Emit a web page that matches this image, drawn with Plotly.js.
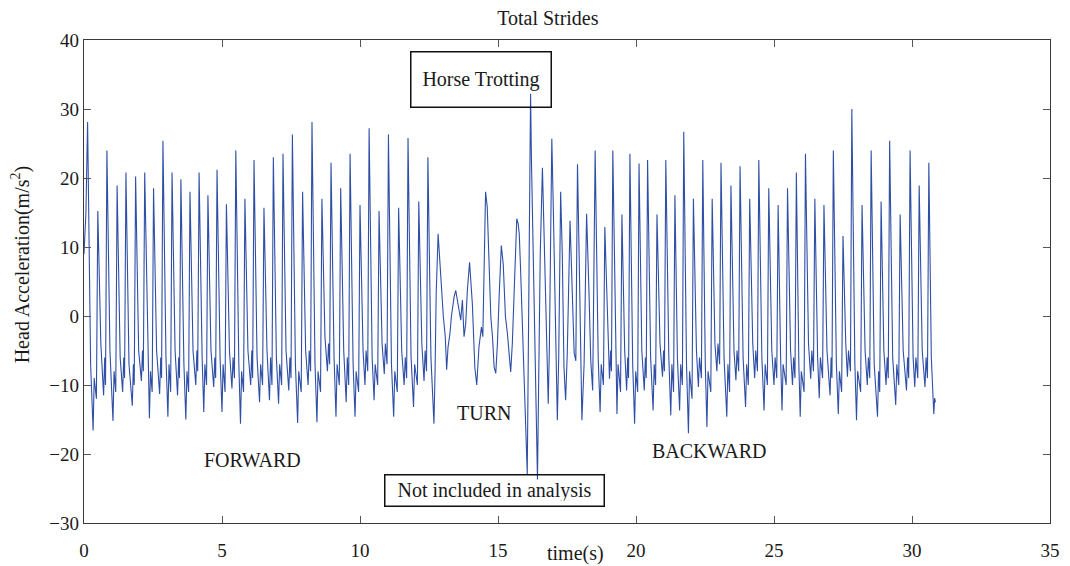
<!DOCTYPE html>
<html>
<head>
<meta charset="utf-8">
<script src="https://cdn.plot.ly/plotly-3.0.1.min.js"></script>
<style>
  html, body { margin: 0; padding: 0; background: #fff; }
  #chart { width: 1070px; height: 566px; }
</style>
</head>
<body>
<div id="chart"></div>
<script>
// Head acceleration during trotting: forward run, turn, backward run.
// Each stride is listed as peak, fall, trough, rebound, take-off.

const timeForward = [
  0.00, 0.07,
  0.13, 0.24, 0.33, 0.37, 0.45,   0.50, 0.61, 0.71, 0.75, 0.78,
  0.83, 0.94, 1.05, 1.09, 1.15,   1.20, 1.31, 1.40, 1.44, 1.47,
  1.52, 1.63, 1.75, 1.79, 1.82,   1.87, 1.98, 2.08, 2.12, 2.15,
  2.20, 2.31, 2.37, 2.41, 2.47,   2.52, 2.63, 2.74, 2.78, 2.81,
  2.86, 2.97, 3.04, 3.08, 3.14,   3.19, 3.30, 3.39, 3.43, 3.46,
  3.51, 3.62, 3.69, 3.73, 3.79,   3.84, 3.95, 4.05, 4.09, 4.12,
  4.17, 4.28, 4.34, 4.38, 4.44,   4.49, 4.60, 4.70, 4.74, 4.77,
  4.82, 4.93, 5.00, 5.04, 5.11,   5.16, 5.27, 5.36, 5.40, 5.45,
  5.50, 5.61, 5.67, 5.71, 5.78,   5.83, 5.94, 6.04, 6.08, 6.11,
  6.16, 6.27, 6.36, 6.40, 6.47,   6.52, 6.63, 6.72, 6.76, 6.81,
  6.86, 6.97, 7.05, 7.09, 7.16,   7.21, 7.32, 7.42, 7.46, 7.50,
  7.55, 7.66, 7.74, 7.78, 7.87,   7.92, 8.03, 8.12, 8.16, 8.21,
  8.26, 8.37, 8.44, 8.48, 8.57,   8.62, 8.73, 8.82, 8.86, 8.90,
  8.95, 9.06, 9.13, 9.17, 9.25,   9.30, 9.41, 9.50, 9.54, 9.59,
  9.64, 9.75, 9.82, 9.86, 9.95,   10.00, 10.11, 10.18, 10.22, 10.28,
  10.33, 10.44, 10.51, 10.55, 10.64,   10.69, 10.80, 10.88, 10.92, 10.98,
  11.03, 11.14, 11.22, 11.26, 11.35,   11.40, 11.51, 11.60, 11.64, 11.69,
  11.74, 11.85, 11.94, 11.98, 12.08,   12.13, 12.24, 12.32, 12.36, 12.41,
  12.46, 12.57, 12.68
];
const accelForward = [
  9, 15,
  28.1, -7, -16.6, -9, -12,   15.2, -4, -11.5, -6, -10,
  24.0, -5, -15.2, -8, -11,   18.9, -6, -11.0, -6, -9,
  20.8, -7, -13.0, -7, -10,   20.2, -5, -9.4, -5, -8,
  20.8, -6, -14.8, -8, -11,   18.5, -5, -11.3, -6, -9,
  25.4, -6, -14.6, -7, -11,   20.8, -5, -11.5, -6, -9,
  19.8, -7, -15.0, -8, -11,   18.0, -5, -10.0, -5, -8,
  20.8, -6, -13.9, -7, -10,   17.5, -5, -10.3, -6, -9,
  21.2, -6, -13.9, -7, -11,   16.2, -5, -10.5, -6, -9,
  24.0, -7, -15.6, -8, -11,   17.0, -5, -10.0, -5, -9,
  22.6, -6, -12.5, -7, -10,   15.7, -5, -12.2, -6, -10,
  23.0, -6, -12.7, -7, -10,   23.5, -5, -10.8, -6, -9,
  26.3, -7, -15.5, -8, -11,   18.0, -5, -10.0, -5, -8,
  28.1, -7, -15.4, -8, -11,   17.0, -3, -8.0, -4, -7,
  22.2, -6, -14.6, -7, -10,   18.5, -5, -12.5, -6, -10,
  23.5, -7, -14.6, -8, -11,   16.1, -5, -10.0, -5, -8,
  27.2, -6, -12.2, -7, -10,   15.2, -4, -8.4, -4, -7,
  26.3, -7, -14.6, -8, -11,   15.7, -5, -10.0, -6, -9,
  25.8, -6, -13.2, -7, -10,   16.6, -4, -9.4, -5, -8,
  23.0, -6, -15.6
];

const timeTurn = [
  12.72, 12.76, 12.83, 12.92, 13.02, 13.09, 13.14, 13.19, 13.26, 13.31,
  13.41, 13.47, 13.53, 13.59, 13.65, 13.71, 13.77, 13.83, 13.89, 13.97,
  14.07, 14.16, 14.23, 14.31, 14.40, 14.45, 14.49, 14.55, 14.61, 14.68,
  14.74, 14.80, 14.86, 14.92, 14.98, 15.05, 15.12, 15.19, 15.27, 15.34,
  15.40, 15.46, 15.52, 15.58, 15.68, 15.73, 15.77, 15.82, 15.88, 15.94,
  16.03, 16.06, 16.18, 16.21, 16.43
];
const accelTurn = [
  -8, 3.2, 11.9, 5.6, -0.1, -3.0, -7.8, -4.5, -2.5, -0.1,
  2.8, 3.7, 2.3, 0.8, -0.6, 2.3, -3.0, -1.1, 3.7, 7.8,
  1.8, -7.4, -10.0, -4.5, -1.6, -3.0, 5.6, 18.0, 15.8, 5.6,
  -0.1, -3.0, -7.4, -8.3, -3.9, 3.7, 10.2, 7.5, -0.1, -2.5,
  -5.9, -8.1, -3.9, 3.7, 14.1, 13.4, 11.9, 6.6, -1.1, -9.8,
  -20.0, -22.9, 32.2, 23.0, -23.7
];

const timeBackward = [
  16.47, 16.53, 16.61, 16.69, 16.76, 16.82, 16.86, 16.95, 17.01, 17.09,
  17.15, 17.20, 17.27, 17.33, 17.39, 17.45, 17.51, 17.61, 17.68, 17.76,
  17.82, 17.88, 17.94, 18.00, 18.04, 18.12, 18.21, 18.30, 18.36, 18.43,
  18.52, 18.63, 18.70, 18.74, 18.82,   18.87, 18.98, 19.04, 19.08, 19.11,
  19.16, 19.26, 19.31, 19.35, 19.44,   19.49, 19.59, 19.66, 19.70, 19.73,
  19.78, 19.88, 19.95, 19.99, 20.06,   20.11, 20.21, 20.30, 20.34, 20.37,
  20.42, 20.53, 20.62, 20.66, 20.71,   20.76, 20.87, 20.96, 21.00, 21.03,
  21.08, 21.19, 21.26, 21.30, 21.36,   21.41, 21.50, 21.58, 21.62, 21.68,
  21.73, 21.83, 21.90, 21.94, 22.03,   22.08, 22.19, 22.26, 22.30, 22.37,
  22.42, 22.51, 22.57, 22.61, 22.71,   22.76, 22.86, 22.93, 22.97, 23.03,
  23.08, 23.19, 23.29, 23.33, 23.39,   23.44, 23.55, 23.62, 23.66, 23.72,
  23.77, 23.88, 23.97, 24.01, 24.07,   24.12, 24.23, 24.30, 24.34, 24.40,
  24.45, 24.56, 24.64, 24.68, 24.76,   24.81, 24.92, 25.00, 25.04, 25.10,
  25.15, 25.24, 25.29, 25.33, 25.44,   25.49, 25.60, 25.67, 25.71, 25.76,
  25.81, 25.90, 25.95, 25.99, 26.09,   26.14, 26.25, 26.33, 26.37, 26.43,
  26.48, 26.58, 26.64, 26.68, 26.76,   26.81, 26.92, 27.03, 27.07, 27.10,
  27.15, 27.26, 27.33, 27.37, 27.45,   27.50, 27.60, 27.66, 27.70, 27.77,
  27.82, 27.93, 27.99, 28.03, 28.14,   28.19, 28.30, 28.38, 28.42, 28.47,
  28.52, 28.63, 28.75, 28.79, 28.83,   28.88, 28.98, 29.06, 29.10, 29.14,
  29.19, 29.30, 29.41, 29.45, 29.52,   29.57, 29.68, 29.80, 29.84, 29.88,
  29.93, 30.04, 30.10, 30.14, 30.21,   30.26, 30.37, 30.47, 30.51, 30.56,
  30.61, 30.70, 30.75, 30.79, 30.82, 30.85
];
const accelBackward = [
  -7.4, 8.8, 21.5, 8.8, -3.5, -12.7, -4.9, 25.7, 14.4, -2.5,
  -15.1, -5.9, 18.0, 8.8, -7.4, -12.2, -5.4, 13.8, 3.7, -5.4,
  -6.5, 22.0, 8.8, -5.9, -15.1, -6.9, 14.8, 3.0, -6.4, -10.8,
  24.0, -6, -13.9, -7, -10,   12.9, -4, -9.1, -5, -8,
  24.0, -6, -14.2, -7, -11,   14.7, -5, -10.8, -6, -9,
  23.5, -7, -15.6, -8, -11,   22.1, -5, -10.8, -6, -9,
  22.6, -6, -13.7, -7, -10,   14.7, -4, -8.8, -5, -8,
  22.6, -6, -14.4, -7, -11,   17.5, -6, -13.7, -7, -10,
  26.7, -7, -17.0, -8, -12,   17.0, -5, -10.3, -6, -9,
  22.6, -7, -16.1, -8, -11,   17.0, -4, -8.0, -4, -7,
  22.2, -6, -14.6, -7, -11,   18.9, -5, -9.3, -5, -8,
  21.7, -6, -13.2, -7, -10,   17.0, -4, -9.0, -5, -8,
  22.6, -6, -13.7, -7, -10,   18.5, -5, -10.0, -6, -9,
  16.1, -6, -13.7, -7, -10,   18.5, -5, -10.0, -6, -9,
  20.8, -7, -14.6, -8, -11,   23.5, -4, -9.1, -5, -8,
  17.0, -6, -11.9, -6, -9,   16.1, -5, -11.5, -6, -9,
  24.0, -7, -14.2, -8, -11,   11.6, -4, -8.8, -5, -8,
  30.0, -7, -15.1, -8, -11,   16.1, -5, -10.0, -6, -9,
  24.0, -7, -14.6, -8, -11,   16.6, -5, -10.0, -6, -9,
  25.4, -6, -12.9, -7, -10,   14.7, -5, -10.8, -6, -9,
  24.0, -6, -10.3, -6, -9,   18.9, -5, -10.3, -6, -9,
  22.2, -6, -12.2, -14.2, -11.9, -12.5
];

const xTicks = [0, 5, 10, 15, 20, 25, 30, 35];
const yTicks = [-30, -20, -10, 0, 10, 20, 30, 40];

const serif = 'Liberation Serif, Times New Roman, serif';
const ink = '#1a1a1a';

const trace = {
  type: 'scatter',
  mode: 'lines',
  x: timeForward.concat(timeTurn, timeBackward),
  y: accelForward.concat(accelTurn, accelBackward),
  line: { color: '#2f4fa6', width: 1.1 },
  hoverinfo: 'x+y'
};

const axisCommon = {
  showgrid: false,
  zeroline: false,
  showline: true,
  linecolor: '#3a3a3a',
  linewidth: 1.2,
  mirror: 'ticks',
  ticks: 'inside',
  ticklen: 7,
  tickcolor: '#555',
  tickwidth: 1,
  tickfont: { family: serif, size: 19, color: ink }
};

const boxNote = (text, x, y) => ({
  text, x, y, xref: 'x', yref: 'y', showarrow: false,
  font: { family: serif, size: 20, color: ink },
  bordercolor: '#111', borderwidth: 1.5, borderpad: 5
});

const plainNote = (text, x, y) => ({
  text, x, y, xref: 'x', yref: 'y', showarrow: false,
  font: { family: serif, size: 20, color: ink }
});

const layout = {
  width: 1070,
  height: 566,
  margin: { l: 84, r: 20, t: 40, b: 43 },
  paper_bgcolor: '#fff',
  plot_bgcolor: '#fff',
  showlegend: false,
  title: {
    text: 'Total Strides',
    font: { family: serif, size: 20, color: ink },
    x: 0.512, xanchor: 'center',
    y: 0.968, yanchor: 'middle', yref: 'container'
  },
  xaxis: Object.assign({}, axisCommon, {
    range: [0, 35],
    tickvals: xTicks,
    ticktext: xTicks.map(String),
    ticklabelstandoff: 10
  }),
  yaxis: Object.assign({}, axisCommon, {
    range: [-30, 40],
    tickvals: yTicks,
    ticktext: yTicks.map(v => v < 0 ? '\u2212' + Math.abs(v) : String(v))
  }),
  annotations: [
    Object.assign(boxNote('Horse Trotting', 14.40, 34.3), { width: 129, height: 44 }),
    Object.assign(boxNote('Not included in analysis', 14.87, -25.3), { width: 208, height: 20 }),
    plainNote('TURN', 14.49, -14.0),
    plainNote('FORWARD', 6.09, -20.9),
    plainNote('BACKWARD', 22.64, -19.6),
    { text: 'time(s)', x: 17.8, y: -0.064, xref: 'x', yref: 'paper', yanchor: 'middle',
      showarrow: false, font: { family: serif, size: 20, color: ink } },
    { text: 'Head Acceleration(m/s<sup>2</sup>)', x: -0.066, y: 0.534,
      xref: 'paper', yref: 'paper', xanchor: 'center', yanchor: 'middle',
      textangle: -90, showarrow: false, font: { family: serif, size: 20, color: ink } }
  ]
};

Plotly.newPlot('chart', [trace], layout, { staticPlot: true, displayModeBar: false });
</script>
</body>
</html>
